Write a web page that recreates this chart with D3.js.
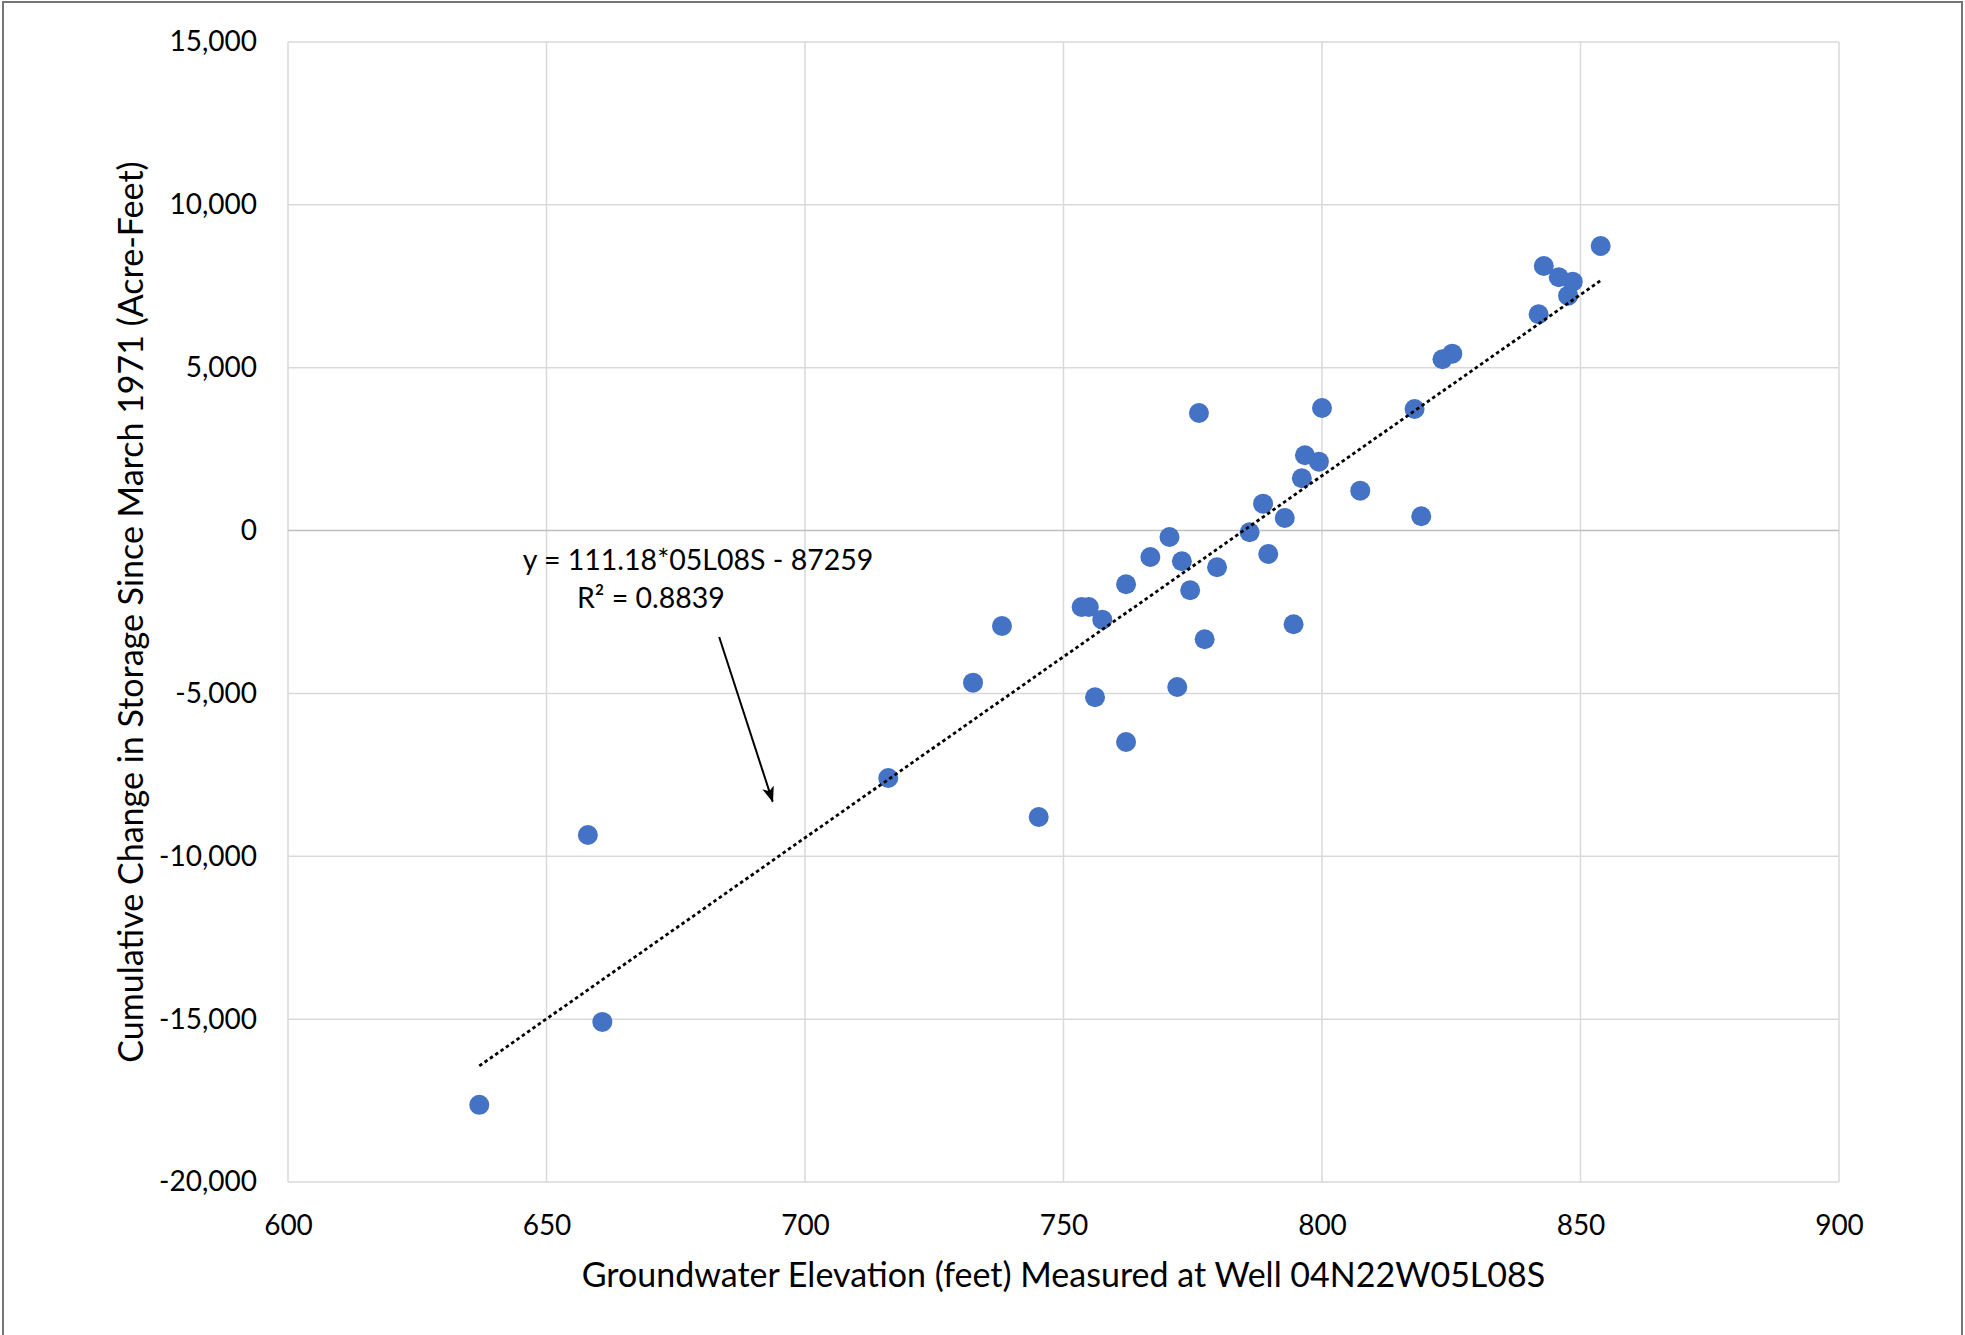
<!DOCTYPE html>
<html>
<head>
<meta charset="utf-8">
<script src="https://cdnjs.cloudflare.com/ajax/libs/d3/7.8.5/d3.min.js"></script>
<style>
  html, body { margin: 0; padding: 0; background: #fff; }
  svg { display: block; }
  text { font-family: Lato, "Open Sans", sans-serif; fill: #000; }
</style>
</head>
<body>
<svg id="chart" width="1965" height="1335"></svg>
<script>
// ---- data ----
const elevation = [637.0, 658.0, 660.8, 716.1, 732.5, 738.1, 745.2, 753.5, 754.9, 757.5, 756.1,
  762.1, 762.1, 766.8, 770.5, 772.9, 772.0, 774.5, 776.2, 777.3, 779.7, 786.0, 788.6, 789.6,
  792.8, 794.5, 796.1, 796.7, 799.4, 800.0, 807.4, 817.9, 819.2, 823.3, 825.2, 841.9, 842.9,
  845.8, 848.5, 847.6, 853.9];
const storageChange = [-17630, -9345, -15085, -7595, -4670, -2930, -8795, -2346, -2346, -2735, -5118,
  -6490, -1649, -811, -197, -943, -4802, -1833, 3610, -3337, -1127, -52, 826, -718,
  387, -2877, 1605, 2312, 2116, 3764, 1225, 3733, 439, 5259, 5431, 6640, 8123,
  7776, 7641, 7212, 8737];
const xTicks = [600, 650, 700, 750, 800, 850, 900];
const yTicks = [-20000, -15000, -10000, -5000, 0, 5000, 10000, 15000];
const trendSlope = 111.18;
const trendIntercept = -87259;
const equationLines = ["y = 111.18*05L08S - 87259", "R\u00b2 = 0.8839"];
const xTitle = "Groundwater Elevation (feet) Measured at Well 04N22W05L08S";
const yTitle = "Cumulative Change in Storage Since March 1971 (Acre-Feet)";

// ---- layout ----
const plot = { left: 288, right: 1839, top: 42, bottom: 1182 };
const svg = d3.select("#chart");

const x = d3.scaleLinear().domain([600, 900]).range([plot.left, plot.right]);
const y = d3.scaleLinear().domain([-20000, 15000]).range([plot.bottom, plot.top]);

// outer frame
svg.append("rect").attr("x", 3).attr("y", 2).attr("width", 1959).attr("height", 1345)
  .attr("fill", "#fff").attr("stroke", "#767676").attr("stroke-width", 2);

// gridlines
const grid = svg.append("g");
grid.selectAll("line.v").data(xTicks).join("line")
  .attr("x1", d => x(d)).attr("x2", d => x(d))
  .attr("y1", plot.top).attr("y2", plot.bottom)
  .attr("stroke", "#d9d9d9").attr("stroke-width", 1.5);
grid.selectAll("line.h").data(yTicks).join("line")
  .attr("x1", plot.left).attr("x2", plot.right)
  .attr("y1", d => y(d)).attr("y2", d => y(d))
  .attr("stroke", d => d === 0 ? "#bfbfbf" : "#d9d9d9").attr("stroke-width", 1.5);

// axes (labels only, via d3 axis)
const fmt = d => d3.format(",")(d).replace("\u2212", "-");
const yAxis = svg.append("g").attr("transform", `translate(${plot.left - 31},0)`)
  .call(d3.axisLeft(y).tickValues(yTicks).tickFormat(fmt).tickSize(0).tickPadding(0));
yAxis.select(".domain").remove();
yAxis.selectAll("text").attr("font-size", 28).attr("font-family", "Lato").attr("fill", "#000");

const xAxis = svg.append("g").attr("transform", `translate(0,${plot.bottom + 33})`)
  .call(d3.axisBottom(x).tickValues(xTicks).tickFormat(d3.format("d")).tickSize(0).tickPadding(0));
xAxis.select(".domain").remove();
xAxis.selectAll("text").attr("font-size", 28).attr("font-family", "Lato").attr("fill", "#000");

// axis titles
svg.append("text").attr("x", (plot.left + plot.right) / 2).attr("y", 1287)
  .attr("text-anchor", "middle").attr("font-size", 34).text(xTitle);
svg.append("text")
  .attr("transform", `translate(143,${(plot.top + plot.bottom) / 2}) rotate(-90)`)
  .attr("text-anchor", "middle").attr("font-size", 34).text(yTitle);

// points
svg.append("g").selectAll("circle").data(elevation.map((e, i) => [e, storageChange[i]])).join("circle")
  .attr("cx", d => x(d[0])).attr("cy", d => y(d[1])).attr("r", 10)
  .attr("fill", "#4472C4");

// trendline
const xExt = d3.extent(elevation);
svg.append("line")
  .attr("x1", x(xExt[0])).attr("y1", y(trendSlope * xExt[0] + trendIntercept))
  .attr("x2", x(xExt[1])).attr("y2", y(trendSlope * xExt[1] + trendIntercept))
  .attr("stroke", "#000").attr("stroke-width", 2.8).attr("stroke-dasharray", "3.5,3");

// equation annotation
svg.append("text").attr("x", x(679.3)).attr("y", y(-1210)).attr("text-anchor", "middle")
  .attr("font-size", 28.5).text(equationLines[0]);
svg.append("text").attr("x", x(670.2)).attr("y", y(-2385)).attr("text-anchor", "middle")
  .attr("font-size", 28.5).text(equationLines[1]);

// arrow
const defs = svg.append("defs");
defs.append("marker").attr("id", "arrow").attr("viewBox", "0 0 16 12")
  .attr("refX", 15).attr("refY", 6).attr("markerWidth", 16).attr("markerHeight", 12)
  .attr("markerUnits", "userSpaceOnUse").attr("orient", "auto")
  .append("path").attr("d", "M0,0 L16,6 L0,12 L4,6 Z").attr("fill", "#000");
svg.append("line")
  .attr("x1", x(683.4)).attr("y1", y(-3267))
  .attr("x2", x(693.75)).attr("y2", y(-8323))
  .attr("stroke", "#000").attr("stroke-width", 2).attr("marker-end", "url(#arrow)");
</script>
</body>
</html>
